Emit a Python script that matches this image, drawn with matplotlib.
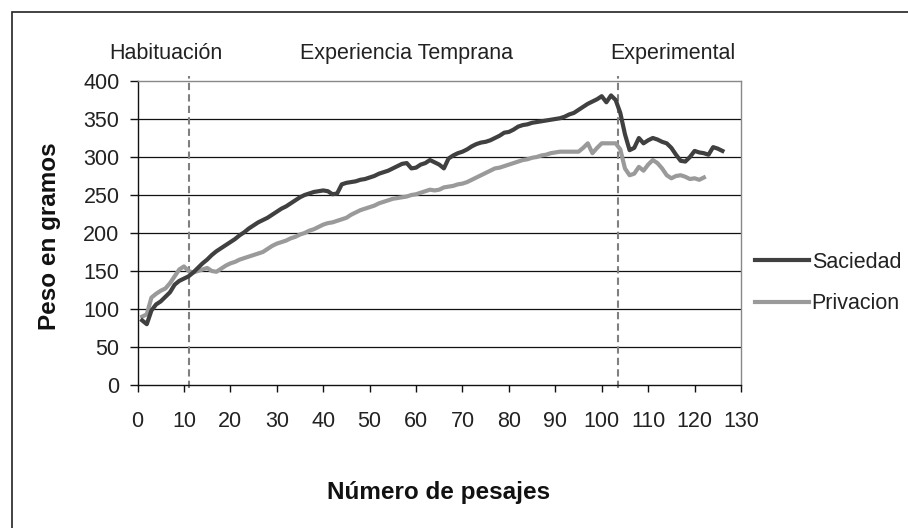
import matplotlib
matplotlib.use("Agg")
import matplotlib.pyplot as plt
from matplotlib.patches import Rectangle

saciedad = [85, 80, 98, 106, 110, 116, 122, 132, 137, 140,
            143, 148, 154, 160, 165, 171, 176, 180, 184, 188,
            192, 197, 201, 206, 210, 214, 217, 220, 224, 228,
            232, 235, 239, 243, 247, 250, 252, 254, 255, 256,
            255, 251, 252, 264, 266, 267, 268, 270, 271, 273,
            275, 278, 280, 282, 285, 288, 291, 292, 285, 286,
            290, 292, 296, 293, 290, 285, 298, 302, 305, 307,
            310, 314, 317, 319, 320, 322, 325, 328, 332, 333,
            336, 340, 342, 343, 345, 346, 347, 348, 349, 350,
            351, 353, 356, 358, 362, 366, 370, 373, 376, 380,
            372, 381, 375, 358, 330, 309, 312, 325, 318, 322,
            325, 323, 320, 318, 312, 303, 295, 294, 300, 308,
            306, 305, 303, 313, 311, 308]
privacion = [90, 93, 115, 120, 124, 127, 134, 143, 152, 156,
             150, 148, 150, 152, 154, 150, 149, 153, 157, 160,
             162, 165, 167, 169, 171, 173, 175, 179, 183, 186,
             188, 190, 193, 195, 198, 200, 203, 205, 208, 211,
             213, 214, 216, 218, 220, 224, 227, 230, 232, 234,
             236, 239, 241, 243, 245, 246, 247, 248, 250, 251,
             253, 255, 257, 256, 257, 260, 261, 262, 264, 265,
             267, 270, 273, 276, 279, 282, 285, 286, 288, 290,
             292, 294, 296, 297, 299, 300, 302, 303, 305, 306,
             307, 307, 307, 307, 307, 312, 318, 305, 312, 318,
             318, 318, 318, 310, 285, 276, 278, 287, 282, 290,
             296, 292, 285, 276, 272, 275, 276, 274, 271, 272,
             270, 273]
x_sac = list(range(1, len(saciedad) + 1))
x_pri = list(range(1, len(privacion) + 1))

phase_bounds = [11, 103.5]
phase_labels = ["Habituación", "Experiencia Temprana", "Experimental"]
phase_label_x = [6.2, 58.0, 115.4]
x_ticks = list(range(0, 131, 10))
y_ticks = list(range(0, 401, 50))

FONT = ["Liberation Sans", "DejaVu Sans"]
plt.rcParams["font.family"] = FONT
TXT = "#222222"

fig = plt.figure(figsize=(9.08, 5.28), dpi=100)
fig.patches.append(Rectangle((12 / 908, -0.2), 1.5, 1.2 - 12 / 528,
                             transform=fig.transFigure, fill=False,
                             edgecolor="#222222", linewidth=1.2))

ax = fig.add_axes([137.5 / 908, 1 - 385 / 528, (741 - 137.5) / 908, (385 - 81) / 528])
ax.set_xlim(0, 130)
ax.set_ylim(0, 400)

for y in y_ticks[1:-1]:
    ax.axhline(y, color="#111111", linewidth=0.9, zorder=1)

for xb in phase_bounds:
    ax.plot([xb, xb], [-4, 407], color="#808080", linewidth=1.5,
            linestyle=(0, (3.5, 2)), clip_on=False, zorder=2)

ax.plot(x_sac, saciedad, color="#404040", linewidth=3.0, label="Saciedad", zorder=4)
ax.plot(x_pri, privacion, color="#9a9a9a", linewidth=3.0, label="Privacion", zorder=3)

ax.set_xticks(x_ticks)
ax.set_yticks(y_ticks)
ax.tick_params(axis="both", direction="out", length=5, width=1, color="#111111",
               labelsize=15.5, labelcolor=TXT)
ax.tick_params(axis="x", pad=14)
ax.tick_params(axis="y", length=6, pad=7)

ax.spines["left"].set_color("#111111")
ax.spines["bottom"].set_color("#111111")
ax.spines["top"].set_color("#888888")
ax.spines["right"].set_color("#888888")
for s in ax.spines.values():
    s.set_linewidth(1.0)

ax.set_xlabel("Número de pesajes", fontsize=17.5, fontweight="bold", color="#111111",
              va="center")
ax.xaxis.set_label_coords(0.499, -0.355)
ax.set_ylabel("Peso en gramos", fontsize=17.5, fontweight="bold", color="#111111",
              va="center")
ax.yaxis.set_label_coords(-0.146, 0.49)

for lx, lab in zip(phase_label_x, phase_labels):
    ax.text(lx, 1.092, lab, transform=ax.get_xaxis_transform(), ha="center",
            va="center", fontsize=15.5, color=TXT)

leg = ax.legend(loc="center left", bbox_to_anchor=(1.023, 0.335), frameon=False,
                handlelength=2.5, handletextpad=0.14, labelspacing=0.95,
                borderaxespad=0, borderpad=0, fontsize=15.5)
for t in leg.get_texts():
    t.set_color(TXT)

fig.savefig("out.png", dpi=100)
